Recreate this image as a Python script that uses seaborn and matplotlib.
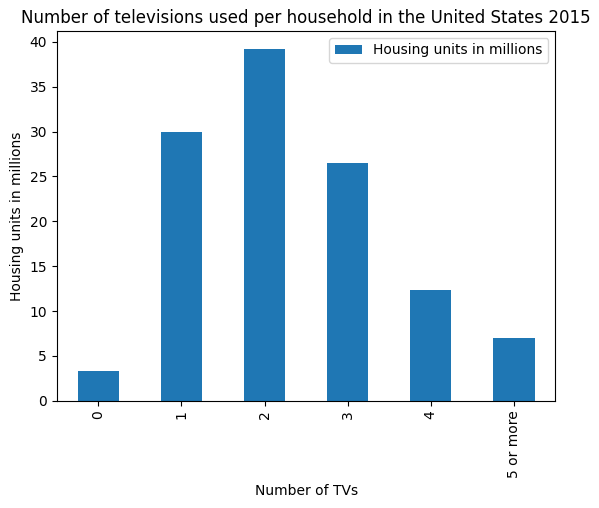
import matplotlib
matplotlib.use("Agg")
import matplotlib.pyplot as plt
import seaborn as sns
import pandas as pd

categories = ["0", "1", "2", "3", "4", "5 or more"]
values = [3.3, 30.0, 39.2, 26.5, 12.3, 7.0]

df = pd.DataFrame({"Number of TVs": categories, "Housing units in millions": values})

fig = plt.figure(figsize=(5.99, 5.08), dpi=100)
ax = fig.add_axes([0.095, 0.211, 0.832, 0.728])
sns.barplot(data=df, x="Number of TVs", y="Housing units in millions", color="#1f77b4",
            saturation=1, width=0.5, label="Housing units in millions", ax=ax)
ax.legend(loc="upper right")
ax.set_xlim(-0.5, 5.5)
ax.set_ylim(0, 41.2)
ax.tick_params(axis="x", rotation=90)
ax.set_title("Number of televisions used per household in the United States 2015")
fig.savefig("out.png", dpi=100)
